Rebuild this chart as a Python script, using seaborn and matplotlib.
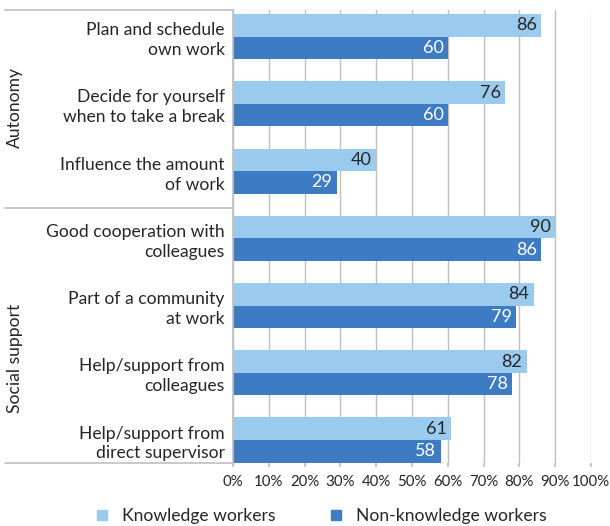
import matplotlib
matplotlib.use("Agg")
import matplotlib.pyplot as plt
from matplotlib.lines import Line2D
import seaborn as sns
import pandas as pd

categories = [
    "Plan and schedule\nown work",
    "Decide for yourself\nwhen to take a break",
    "Influence the amount\nof work",
    "Good cooperation with\ncolleagues",
    "Part of a community\nat work",
    "Help/support from\ncolleagues",
    "Help/support from\ndirect supervisor",
]
knowledge = [86, 76, 40, 90, 84, 82, 61]
non_knowledge = [60, 60, 29, 86, 79, 78, 58]
series = ["Knowledge workers", "Non-knowledge workers"]
groups = ["Autonomy", "Social support"]
xticks = [0, 10, 20, 30, 40, 50, 60, 70, 80, 90, 100]

LIGHT = "#9ACBEF"
DARK = "#3D7CC4"
TEXT = "#262626"
GRID = "#BFBFBF"

sns.set_theme(style="white")
plt.rcParams["font.family"] = ["Lato", "DejaVu Sans"]

df = pd.DataFrame({
    "category": categories * 2,
    "value": knowledge + non_knowledge,
    "series": [series[0]] * len(categories) + [series[1]] * len(categories),
})

W, H = 610, 526
fig = plt.figure(figsize=(W / 100, H / 100), dpi=100)
ax = fig.add_axes([233 / W, 1 - 463 / H, (591 - 233) / W, (463 - 10) / H])

sns.barplot(data=df, y="category", x="value", hue="series", order=categories,
            hue_order=series, palette=[LIGHT, DARK], orient="h", width=0.67,
            gap=0, legend=False, ax=ax, saturation=1, edgecolor="none")

ax.set_xlim(0, 100)
ax.set_ylim(6.342, -0.397)
ax.set_xticks(xticks)
ax.set_xticklabels([f"{t}%" for t in xticks], fontsize=10.8, color=TEXT)
ax.set_xlabel("")
ax.set_ylabel("")
ax.grid(axis="x", color=GRID, linewidth=1)
ax.grid(axis="y", visible=False)
ax.set_axisbelow(True)
for s in ["top", "right", "bottom"]:
    ax.spines[s].set_visible(False)
ax.spines["left"].set_color(GRID)
ax.spines["left"].set_linewidth(1.2)
ax.tick_params(axis="x", length=3, color=GRID, pad=6, bottom=True)
ax.tick_params(axis="y", length=0, pad=6)
ax.set_yticks(range(len(categories)))
ax.set_yticklabels(categories, fontsize=12.6, color=TEXT, linespacing=1.3,
                   ha="right", multialignment="right")

# value labels
for ci, cont in enumerate(ax.containers):
    col = TEXT if ci == 0 else "white"
    for bar in cont:
        w = bar.get_width()
        cy = bar.get_y() + bar.get_height() / 2
        ax.text(w - 1.2, cy, f"{w:.0f}", ha="right", va="center",
                fontsize=13, color=col)

# group separator lines
for yp in [10, 208, 463]:
    fig.add_artist(Line2D([5 / W, 233 / W], [1 - yp / H, 1 - yp / H],
                          color=GRID, linewidth=1.2, transform=fig.transFigure))

fig.text(15 / W, 1 - 107 / H, groups[0], rotation=90, ha="center", va="center",
         fontsize=12.6, color=TEXT)
fig.text(15 / W, 1 - 358 / H, groups[1], rotation=90, ha="center", va="center",
         fontsize=12.6, color=TEXT)

handles = [Line2D([], [], marker="s", linestyle="none", markersize=7.5,
                  markerfacecolor=c, markeredgecolor=c) for c in (LIGHT, DARK)]
fig.legend(handles, series, loc="center", bbox_to_anchor=(320 / W, 1 - 516 / H),
           ncol=2, frameon=False, fontsize=12.6, handletextpad=0.6,
           columnspacing=3.0, labelcolor=TEXT, handlelength=1.0)

fig.savefig("out.png", dpi=100)
